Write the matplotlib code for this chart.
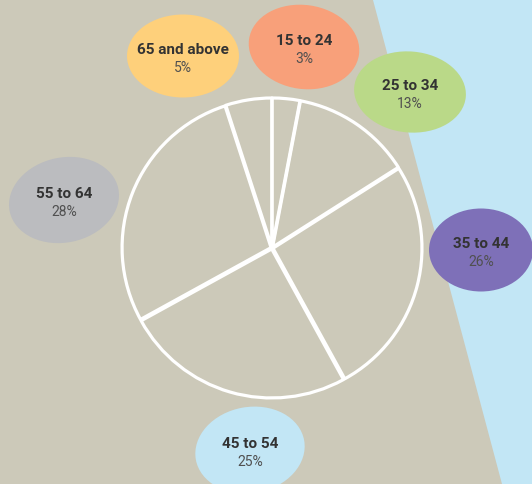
"""Age group share pie with bubble labels."""

import matplotlib.pyplot as plt
from matplotlib.patches import Ellipse, Polygon

W, H = 532, 484

groups = ["15 to 24", "25 to 34", "35 to 44", "45 to 54", "55 to 64", "65 and above"]
shares = [3, 13, 26, 25, 28, 5]
bubble_colors = ["#f8a07a", "#bad988", "#7e70b8", "#c2e6f5", "#bbbcbf", "#fed07b"]

# bubble centre, size, tilt (pixel coords, y from top)
bubbles = {
    "15 to 24": ((304, 47), 111, 84, -8),
    "25 to 34": ((410, 92), 112, 81, -5),
    "35 to 44": ((481, 250), 104, 83, 0),
    "45 to 54": ((250, 450), 110, 86, 10),
    "55 to 64": ((64, 200), 111, 85, 12),
    "65 and above": ((183, 56), 112, 83, 0),
}


def main() -> None:
    fig = plt.figure(figsize=(W / 100, H / 100), dpi=100)
    fig.patch.set_facecolor("#ccc9b9")
    ax = fig.add_axes([0, 0, 1, 1])

    ax.add_patch(Polygon([(373, H), (W, H), (W, 0), (502, 0)],
                         closed=True, facecolor="#c2e6f5", edgecolor="none", zorder=0))

    wedges, _ = ax.pie(
        shares,
        center=(272, H - 248),
        radius=149,
        startangle=90,
        counterclock=False,
        explode=[1.0] * len(shares),
        wedgeprops=dict(facecolor="none", edgecolor="white", linewidth=2.3,
                        joinstyle="round"),
    )
    for w in wedges:
        w.set_zorder(2)

    for name, share, color in zip(groups, shares, bubble_colors):
        (cx, cy), bw, bh, tilt = bubbles[name]
        ax.add_patch(Ellipse((cx, H - cy), bw, bh, angle=tilt,
                             facecolor=color, edgecolor="none", zorder=3))
        ax.text(cx, H - cy + 6, name, ha="center", va="center", fontsize=11,
                fontweight="bold", color="#333333", family="Roboto", zorder=4)
        ax.text(cx, H - cy - 12, f"{share}%", ha="center", va="center", fontsize=10,
                color="#505050", family="Roboto", zorder=4)

    ax.set_xlim(0, W)
    ax.set_ylim(0, H)
    ax.set_aspect("auto")
    ax.axis("off")
    fig.savefig("out.png", dpi=100, facecolor=fig.get_facecolor())


if __name__ == "__main__":
    main()
